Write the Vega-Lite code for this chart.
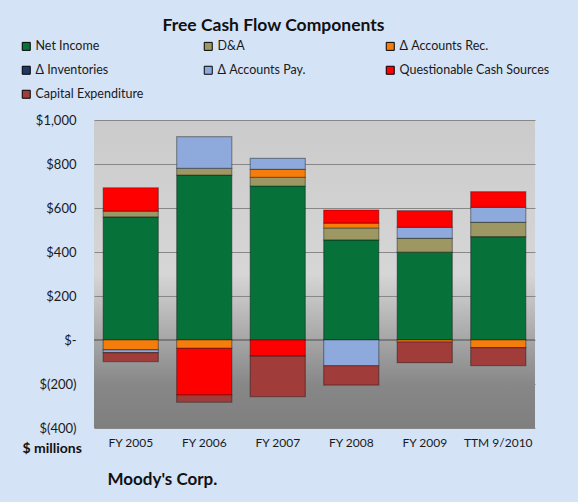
{
  "$schema": "https://vega.github.io/schema/vega-lite/v6.json",
  "width": 441,
  "height": 308,
  "autosize": {"type": "none"},
  "padding": {"left": 94, "top": 120, "right": 43, "bottom": 74},
  "background": "#d5e3f7",
  "title": {
    "text": "Free Cash Flow Components",
    "font": "Lato",
    "fontSize": 17.5,
    "fontWeight": "bold",
    "color": "#111111",
    "anchor": "middle",
    "frame": "group",
    "dx": -41,
    "offset": 6
  },
  "config": {
    "view": {
      "stroke": null,
      "fill": {
        "gradient": "linear",
        "x1": 0, "y1": 0, "x2": 0, "y2": 1,
        "stops": [
          {"offset": 0, "color": "#cbcbcb"},
          {"offset": 0.5, "color": "#d6d6d6"},
          {"offset": 0.7, "color": "#a9a9a9"},
          {"offset": 0.86, "color": "#878787"},
          {"offset": 1, "color": "#7f7f7f"}
        ]
      }
    },
    "font": "Lato"
  },
  "data": {
    "values": [
      {"year": "FY 2005", "component": "Net Income", "value": 560, "ord": 1},
      {"year": "FY 2005", "component": "D&A", "value": 26, "ord": 2},
      {"year": "FY 2005", "component": "Δ Accounts Rec.", "value": -45, "ord": 3},
      {"year": "FY 2005", "component": "Δ Accounts Pay.", "value": -12, "ord": 5},
      {"year": "FY 2005", "component": "Questionable Cash Sources", "value": 106, "ord": 6},
      {"year": "FY 2005", "component": "Capital Expenditure", "value": -41, "ord": 7},

      {"year": "FY 2006", "component": "Net Income", "value": 750, "ord": 1},
      {"year": "FY 2006", "component": "D&A", "value": 30, "ord": 2},
      {"year": "FY 2006", "component": "Δ Accounts Rec.", "value": -38, "ord": 3},
      {"year": "FY 2006", "component": "Δ Accounts Pay.", "value": 144, "ord": 5},
      {"year": "FY 2006", "component": "Questionable Cash Sources", "value": -212, "ord": 6},
      {"year": "FY 2006", "component": "Capital Expenditure", "value": -33, "ord": 7},

      {"year": "FY 2007", "component": "Net Income", "value": 700, "ord": 1},
      {"year": "FY 2007", "component": "D&A", "value": 39, "ord": 2},
      {"year": "FY 2007", "component": "Δ Accounts Rec.", "value": 37, "ord": 3},
      {"year": "FY 2007", "component": "Δ Accounts Pay.", "value": 50, "ord": 5},
      {"year": "FY 2007", "component": "Questionable Cash Sources", "value": -73, "ord": 6},
      {"year": "FY 2007", "component": "Capital Expenditure", "value": -185, "ord": 7},

      {"year": "FY 2008", "component": "Net Income", "value": 455, "ord": 1},
      {"year": "FY 2008", "component": "D&A", "value": 54, "ord": 2},
      {"year": "FY 2008", "component": "Δ Accounts Rec.", "value": 22, "ord": 3},
      {"year": "FY 2008", "component": "Δ Accounts Pay.", "value": -117, "ord": 5},
      {"year": "FY 2008", "component": "Questionable Cash Sources", "value": 60, "ord": 6},
      {"year": "FY 2008", "component": "Capital Expenditure", "value": -88, "ord": 7},

      {"year": "FY 2009", "component": "Net Income", "value": 399, "ord": 1},
      {"year": "FY 2009", "component": "D&A", "value": 63, "ord": 2},
      {"year": "FY 2009", "component": "Δ Accounts Rec.", "value": -9, "ord": 3},
      {"year": "FY 2009", "component": "Δ Accounts Pay.", "value": 50, "ord": 5},
      {"year": "FY 2009", "component": "Questionable Cash Sources", "value": 76, "ord": 6},
      {"year": "FY 2009", "component": "Capital Expenditure", "value": -94, "ord": 7},

      {"year": "TTM 9/2010", "component": "Net Income", "value": 470, "ord": 1},
      {"year": "TTM 9/2010", "component": "D&A", "value": 65, "ord": 2},
      {"year": "TTM 9/2010", "component": "Δ Accounts Rec.", "value": -35, "ord": 3},
      {"year": "TTM 9/2010", "component": "Δ Accounts Pay.", "value": 68, "ord": 5},
      {"year": "TTM 9/2010", "component": "Questionable Cash Sources", "value": 71, "ord": 6},
      {"year": "TTM 9/2010", "component": "Capital Expenditure", "value": -82, "ord": 7}
    ]
  },
  "encoding": {
    "x": {
      "field": "year",
      "type": "nominal",
      "sort": null,
      "scale": {"paddingInner": 0.25, "paddingOuter": 0.125},
      "axis": {
        "labelAngle": 0,
        "labelFont": "Lato",
        "labelFontSize": 12,
        "labelColor": "#1a1a1a",
        "labelPadding": 9,
        "ticks": false,
        "domain": false,
        "title": "Moody's Corp.",
        "titleFont": "Lato",
        "titleFontSize": 17,
        "titleFontWeight": "bold",
        "titleColor": "#111111",
        "titleX": 13,
        "titleY": 56,
        "titleAlign": "left",
        "titleBaseline": "alphabetic",
        "titleAnchor": null
      }
    }
  },
  "layer": [
    {
      "mark": {"type": "rule", "color": "#7a7a7a", "strokeWidth": 1.5},
      "encoding": {
        "x": null,
        "y": {"datum": 0, "type": "quantitative"}
      }
    },
    {
      "mark": {"type": "bar", "stroke": "#000000", "strokeOpacity": 0.35, "strokeWidth": 1.2},
      "encoding": {
        "y": {
          "field": "value",
          "type": "quantitative",
          "stack": "zero",
          "scale": {"domain": [-400, 1000], "nice": false},
          "axis": {
            "values": [-400, -200, 0, 200, 400, 600, 800, 1000],
            "labelExpr": "datum.value == 0 ? '$-' : (datum.value < 0 ? '$(' + format(-datum.value, ',') + ')' : '$' + format(datum.value, ','))",
            "labelFont": "Lato",
            "labelFontSize": 13,
            "labelColor": "#1a1a1a",
            "labelPadding": 18,
            "ticks": false,
            "domain": false,
            "grid": true,
            "gridColor": "#888888",
            "gridWidth": 1,
            "title": "$ millions",
            "titleFont": "Lato",
            "titleFontSize": 14,
            "titleFontWeight": "bold",
            "titleColor": "#111111",
            "titleAngle": 0,
            "titleX": -72,
            "titleY": 332,
            "titleAlign": "left",
            "titleBaseline": "alphabetic",
            "titleAnchor": null
          }
        },
        "color": {
          "field": "component",
          "type": "nominal",
          "scale": {
            "domain": ["Net Income", "D&A", "Δ Accounts Rec.", "Δ Inventories", "Δ Accounts Pay.", "Questionable Cash Sources", "Capital Expenditure"],
            "range": ["#07713a", "#9c9763", "#f57d0c", "#1f3a68", "#8eaadc", "#ff0000", "#a03c3a"]
          },
          "legend": {
            "orient": "none",
            "legendX": -74,
            "legendY": -80,
            "direction": "horizontal",
            "columns": 3,
            "gridAlign": "all",
            "columnPadding": 16,
            "rowPadding": 11,
            "title": null,
            "symbolType": "square",
            "symbolSize": 64,
            "symbolStrokeWidth": 1,
            "labelFont": "Lato",
            "labelFontSize": 12.5,
            "labelColor": "#1a1a1a",
            "labelOffset": 3,
            "labelLimit": 250
          }
        },
        "order": {"field": "ord", "type": "quantitative"}
      }
    }
  ]
}
